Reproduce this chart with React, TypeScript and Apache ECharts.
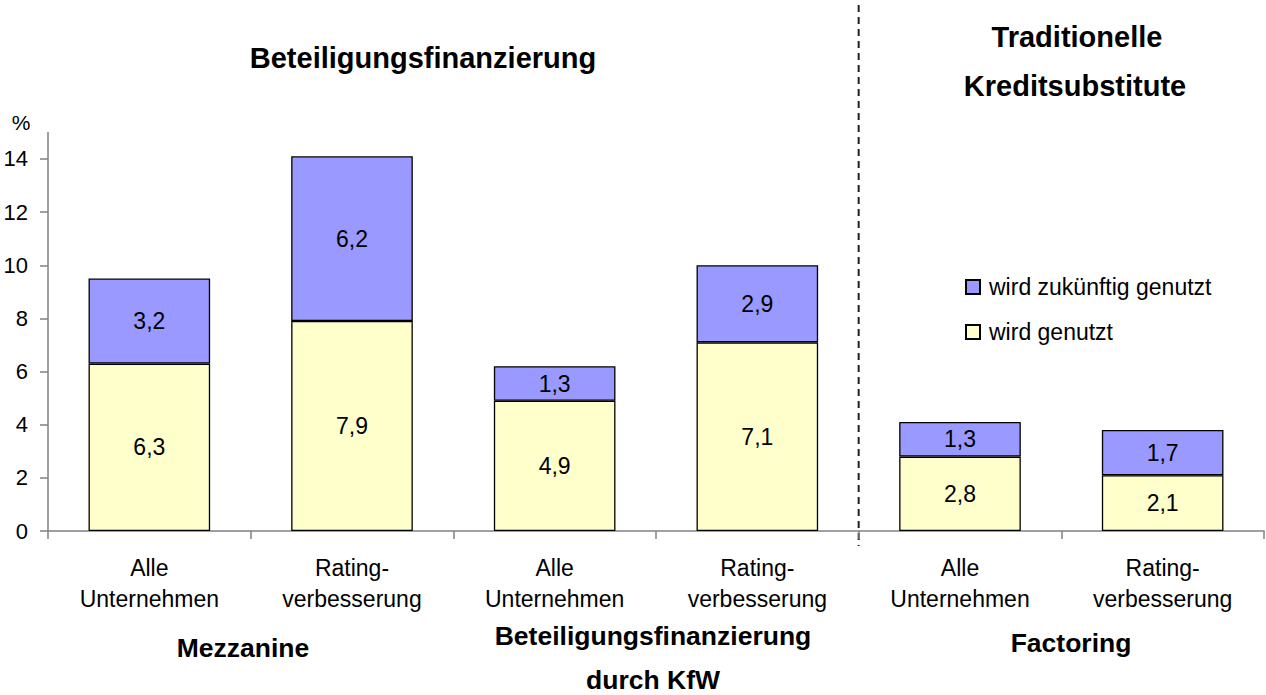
import React, { useEffect, useRef } from "react";
import * as echarts from "echarts";

const categories = [
  "Alle\nUnternehmen",
  "Rating-\nverbesserung",
  "Alle\nUnternehmen",
  "Rating-\nverbesserung",
  "Alle\nUnternehmen",
  "Rating-\nverbesserung",
];
const usedValues = [6.3, 7.9, 4.9, 7.1, 2.8, 2.1];
const futureValues = [3.2, 6.2, 1.3, 2.9, 1.3, 1.7];
const yTicks = [0, 2, 4, 6, 8, 10, 12, 14];
const seriesUsed = "wird genutzt";
const seriesFuture = "wird zukünftig genutzt";
const topTitleLeft = "Beteiligungsfinanzierung";
const topTitleRight = ["Traditionelle", "Kreditsubstitute"];
const groupLabels = ["Mezzanine", "Beteiligungsfinanzierung", "durch KfW", "Factoring"];

export default function App() {
  const ref = useRef<HTMLDivElement>(null);
  useEffect(() => {
    document.body.style.margin = "0";
    const chart = echarts.init(ref.current!, null, { renderer: "svg" });
    const font = "'Liberation Sans', Arial, Helvetica, sans-serif";
    const fmt = (p: any) => String(p.value).replace(".", ",");
    const axisGray = "#808080";
    const boldTitle = (text: string, x: number, y: number, size: number) => ({
      type: "text",
      x,
      y,
      silent: true,
      style: {
        text,
        fontFamily: font,
        fontSize: size,
        fontWeight: "bold",
        fill: "#000",
        textAlign: "center",
        textVerticalAlign: "middle",
      },
    });
    chart.setOption({
      animation: false,
      textStyle: { fontFamily: font },
      grid: { left: 48, right: 2, top: 132.4, bottom: 164 },
      legend: {
        data: [seriesFuture, seriesUsed],
        orient: "vertical",
        left: 960,
        top: 270,
        icon: "rect",
        itemWidth: 14,
        itemHeight: 14,
        itemGap: 21,
        textStyle: {
          fontFamily: font,
          fontSize: 23,
          lineHeight: 24,
          color: "#000",
          padding: [0, 0, 0, 4],
        },
        selectedMode: false,
      },
      xAxis: {
        type: "category",
        data: categories,
        axisLine: { lineStyle: { color: axisGray, width: 1.5 } },
        axisTick: { show: true, length: 8, interval: 0, lineStyle: { color: axisGray, width: 1.5 } },
        axisLabel: {
          interval: 0,
          fontFamily: font,
          fontSize: 23,
          lineHeight: 31,
          margin: 21,
          color: "#000",
        },
        splitLine: { show: false },
      },
      yAxis: {
        type: "value",
        min: 0,
        max: 15,
        axisLine: { show: true, lineStyle: { color: axisGray, width: 1.5 } },
        axisTick: {
          show: true,
          length: 8,
          customValues: yTicks,
          lineStyle: { color: axisGray, width: 1.5 },
        },
        axisLabel: {
          customValues: yTicks,
          fontFamily: font,
          fontSize: 22,
          margin: 20,
          color: "#000",
        },
        splitLine: { show: false },
      },
      series: [
        {
          name: seriesUsed,
          type: "bar",
          stack: "total",
          barWidth: "60%",
          data: usedValues,
          itemStyle: { color: "#FFFFCC", borderColor: "#000", borderWidth: 1.3 },
          label: {
            show: true,
            position: "inside",
            formatter: fmt,
            fontFamily: font,
            fontSize: 23,
            color: "#000",
          },
        },
        {
          name: seriesFuture,
          type: "bar",
          stack: "total",
          barWidth: "60%",
          data: futureValues,
          itemStyle: { color: "#9999FF", borderColor: "#000", borderWidth: 1.3 },
          label: {
            show: true,
            position: "inside",
            formatter: fmt,
            fontFamily: font,
            fontSize: 23,
            color: "#000",
          },
        },
      ],
    });

    const c3 = chart.convertToPixel({ xAxisIndex: 0 }, 3) as number;
    const c4 = chart.convertToPixel({ xAxisIndex: 0 }, 4) as number;
    const divX = (c3 + c4) / 2;

    chart.setOption({
      graphic: [
        {
          type: "line",
          silent: true,
          shape: { x1: divX, y1: 5, x2: divX, y2: 546 },
          style: { stroke: "#222", lineWidth: 2, lineDash: [7, 5] },
        },
        boldTitle(topTitleLeft, 423, 58, 29),
        boldTitle(topTitleRight[0], 1077, 37, 29),
        boldTitle(topTitleRight[1], 1075, 86, 29),
        boldTitle(groupLabels[0], 243, 648, 26.5),
        boldTitle(groupLabels[1], 653, 636, 26.5),
        boldTitle(groupLabels[2], 653, 680, 26.5),
        boldTitle(groupLabels[3], 1071, 643, 26.5),
        {
          type: "text",
          x: 21,
          y: 122,
          silent: true,
          style: {
            text: "%",
            fontFamily: font,
            fontSize: 21,
            fill: "#000",
            textAlign: "center",
            textVerticalAlign: "middle",
          },
        },
      ],
    });

    return () => chart.dispose();
  }, []);
  return <div ref={ref} style={{ width: 1266, height: 695 }} />;
}
